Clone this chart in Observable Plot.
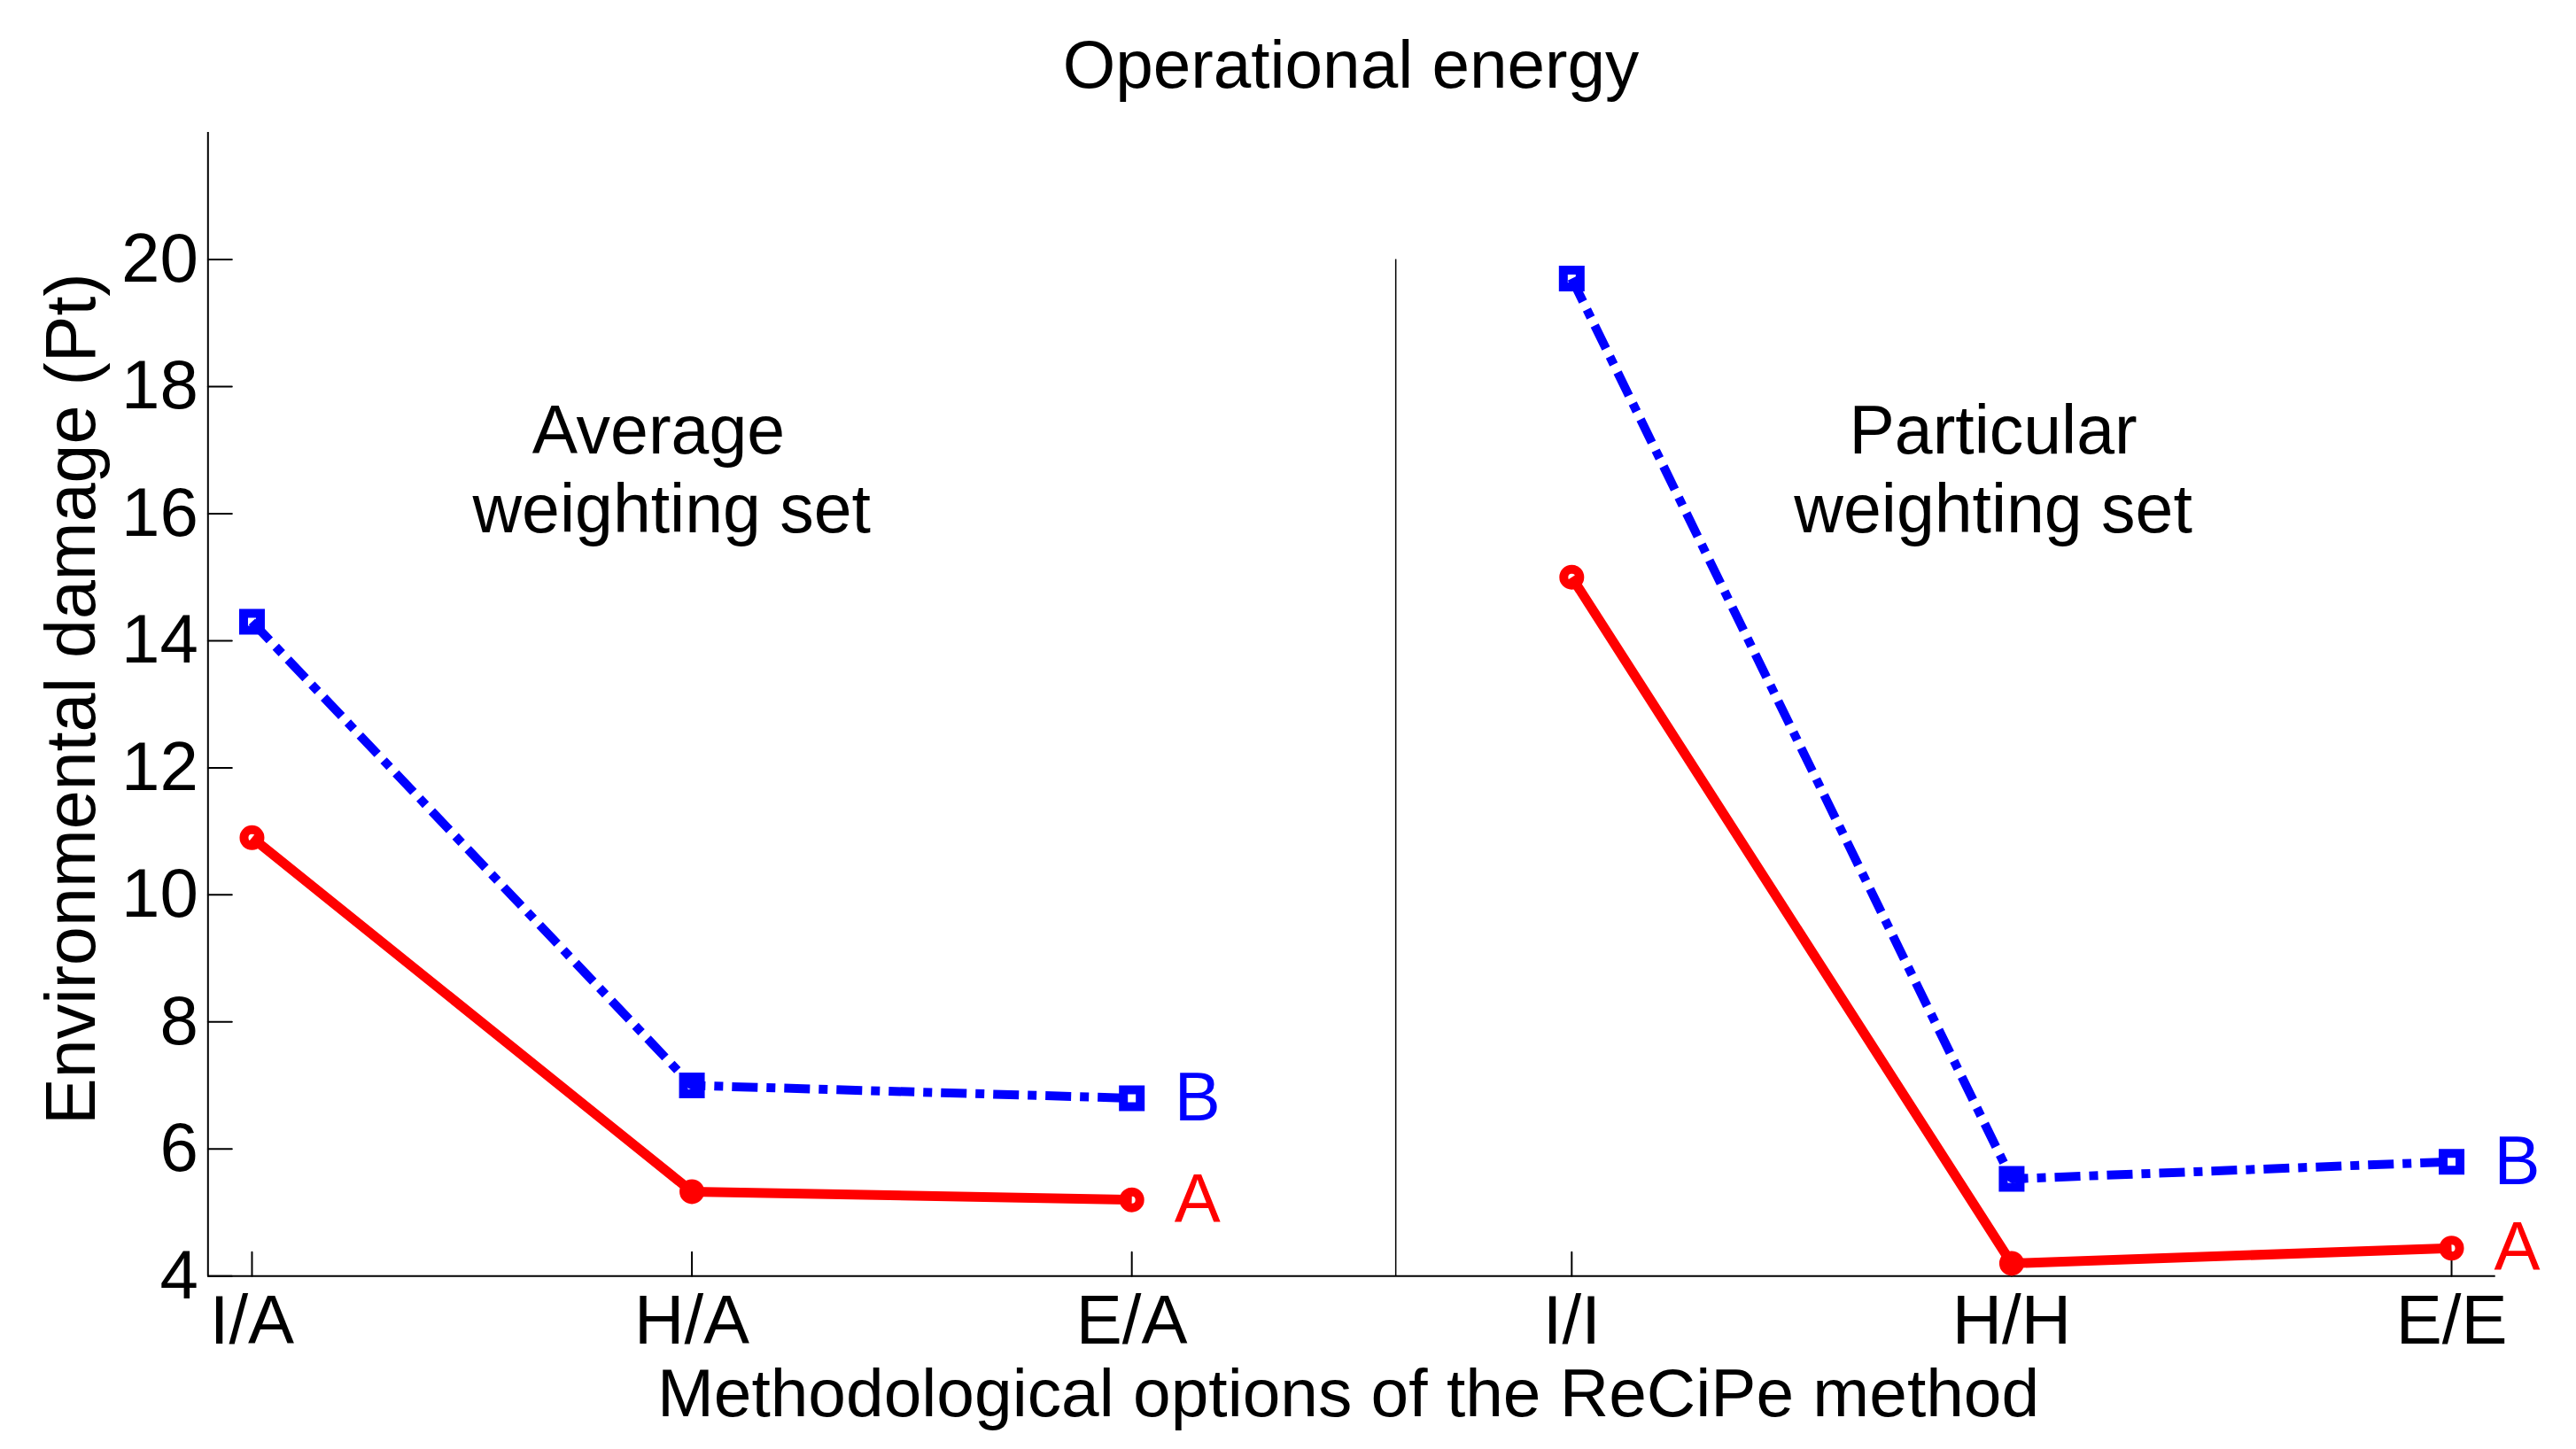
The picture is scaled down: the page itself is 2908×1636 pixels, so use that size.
<!DOCTYPE html>
<html><head><meta charset="utf-8">
<script src="https://cdn.jsdelivr.net/npm/d3@7"></script>
<script src="https://cdn.jsdelivr.net/npm/@observablehq/plot@0.6"></script>
<style>html,body{margin:0;padding:0;background:#fff;overflow:hidden}</style>
</head><body><div id="chart"></div>
<script>
const title = "Operational energy";
const xTitle = "Methodological options of the ReCiPe method";
const yTitle = "Environmental damage (Pt)";
const categories = ["I/A", "H/A", "E/A", "I/I", "H/H", "E/E"];
const positions = [1, 2, 3, 4, 5, 6];
const groups = ["Average", "Average", "Average", "Particular", "Particular", "Particular"];
const seriesA = [10.9, 5.33, 5.2, 15.0, 4.2, 4.44];
const seriesB = [14.3, 7.0, 6.8, 19.7, 5.53, 5.8];
const yTicks = [4, 6, 8, 10, 12, 14, 16, 18, 20];
const separatorX = [3.6];
const annoText = ["Average", "weighting set", "Particular", "weighting set"];
const annoX = [1.924, 1.954, 4.958, 4.958];
const annoY = [16.95, 15.71, 16.95, 15.71];

const RED = "#ff0000", BLUE = "#0000ff";
const FONT = "Liberation Sans, Arial, Helvetica, sans-serif";

function rows(name, values) {
  return values.map((v, i) => ({series: name, x: positions[i], y: v, group: groups[i], cat: categories[i]}));
}
const rowsA = rows("A", seriesA);
const rowsB = rows("B", seriesB);
const lastA = rowsA.filter((d, i) => i === 2 || i === 5);
const lastB = rowsB.filter((d, i) => i === 2 || i === 5);
const annotations = annoText.map((t, i) => ({text: t, x: annoX[i], y: annoY[i]}));

const tickShape = {draw(context, l) { context.moveTo(0, 0); context.lineTo(0, -l); }};

const chart = Plot.plot({
  width: 2908,
  height: 1636,
  marginLeft: 234.3,
  marginRight: 91.3,
  marginTop: 149,
  marginBottom: 195.7,
  style: {background: "#fff", fontFamily: FONT, fontSize: "78px", color: "#000"},
  x: {domain: [0.9, 6.1]},
  y: {domain: [4, 22]},
  marks: [
    Plot.ruleX(separatorX, {y1: 4, y2: 20, stroke: "#000", strokeWidth: 1.5}),
    Plot.ruleX([0.9], {stroke: "#000", strokeWidth: 2}),
    Plot.ruleY([4], {stroke: "#000", strokeWidth: 2}),
    Plot.vector(yTicks, {x: 0.9, y: d => d, length: 27, rotate: 90, anchor: "start", shape: tickShape, stroke: "#000", strokeWidth: 2}),
    Plot.vector(positions, {x: d => d, y: 4, length: 27, rotate: 0, anchor: "start", shape: tickShape, stroke: "#000", strokeWidth: 2}),
    Plot.line(rowsA, {x: "x", y: "y", z: "group", stroke: RED, strokeWidth: 11, strokeLinejoin: "round", strokeLinecap: "butt"}),
    Plot.line(rowsB, {x: "x", y: "y", z: "group", stroke: BLUE, strokeWidth: 10, strokeDasharray: "29,10,10,10", strokeLinecap: "butt", strokeLinejoin: "miter"}),
    Plot.dot(rowsA, {x: "x", y: "y", r: 9, symbol: "circle", stroke: RED, strokeWidth: 10, fill: "none"}),
    Plot.dot(rowsB, {x: "x", y: "y", r: 10.72, symbol: "square", stroke: BLUE, strokeWidth: 10, fill: "none"}),
    Plot.text(lastA, {x: "x", y: "y", text: "series", dx: 48, textAnchor: "start", lineAnchor: "middle", fill: RED, fontSize: 78, fontFamily: FONT}),
    Plot.text(lastB, {x: "x", y: "y", text: "series", dx: 48, textAnchor: "start", lineAnchor: "middle", fill: BLUE, fontSize: 78, fontFamily: FONT}),
    Plot.text(annotations, {x: "x", y: "y", text: "text", textAnchor: "middle", lineAnchor: "bottom", fontSize: 77, fill: "#000", fontFamily: FONT}),
    Plot.axisX({ticks: positions, tickFormat: d => categories[d - 1], tickSize: 0, tickPadding: 21, fontSize: 78, label: null, fill: "#000", fontFamily: FONT}),
    Plot.axisY({ticks: yTicks, tickFormat: d => String(d), tickSize: 0, tickPadding: 11, fontSize: 78, label: null, fill: "#000", fontFamily: FONT}),
    Plot.text([title], {frameAnchor: "top", dx: -1, dy: -51, lineAnchor: "bottom", fontSize: 76.5, fill: "#000", fontFamily: FONT}),
    Plot.text([xTitle], {frameAnchor: "bottom", dx: -4, dy: 158, lineAnchor: "bottom", fontSize: 76.7, fill: "#000", fontFamily: FONT}),
    Plot.text([yTitle], {frameAnchor: "left", dx: -153, dy: -6, rotate: -90, textAnchor: "middle", lineAnchor: "middle", fontSize: 79, fill: "#000", fontFamily: FONT})
  ]
});
document.getElementById("chart").appendChild(chart);
</script>
</body></html>
